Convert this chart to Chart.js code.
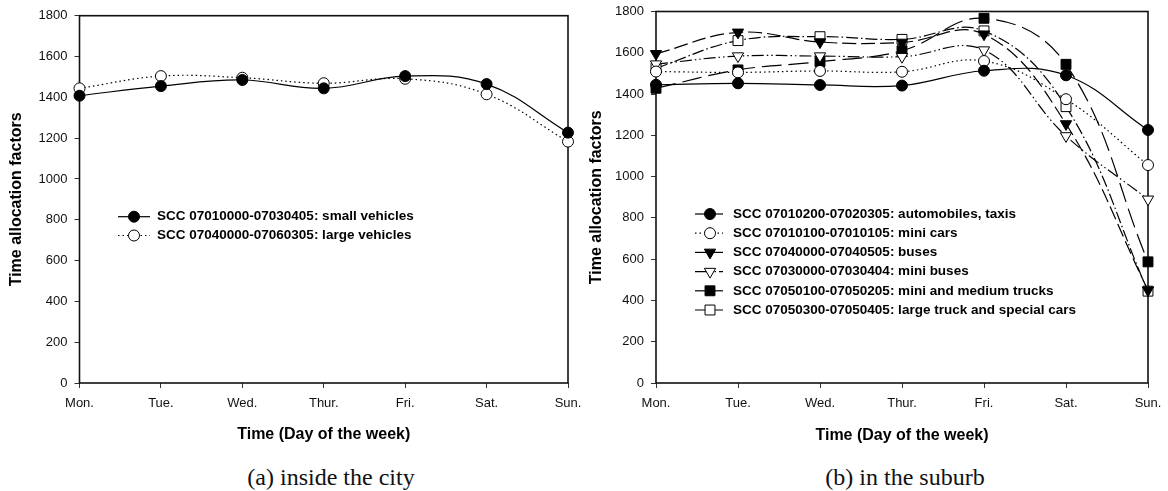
<!DOCTYPE html>
<html><head><meta charset="utf-8">
<script src="https://cdn.jsdelivr.net/npm/chart.js@4/dist/chart.umd.min.js"></script>
<style>
html,body{margin:0;padding:0;background:#fff;width:1168px;height:491px;overflow:hidden;position:relative}
#c1{position:absolute;left:0;top:0}
#c2{position:absolute;left:585px;top:-4px}
.cap{position:absolute;font-family:"Liberation Serif","Times New Roman",serif;font-size:24px;line-height:28px;color:#111;white-space:nowrap;transform:translateX(-50%);}
</style></head><body>
<canvas id="c1" width="590" height="460"></canvas>
<canvas id="c2" width="585" height="464"></canvas>
<div class="cap" style="left:331px;top:463px">(a) inside the city</div>
<div class="cap" style="left:905px;top:463px">(b) in the suburb</div>
<script>
// ---- data ----
const days = ["Mon.", "Tue.", "Wed.", "Thur.", "Fri.", "Sat.", "Sun."];
const yTicks = [0, 200, 400, 600, 800, 1000, 1200, 1400, 1600, 1800];

// (a) inside the city
const smallVehicles = [1408, 1455, 1485, 1444, 1504, 1465, 1227];
const largeVehicles = [1444, 1504, 1496, 1469, 1491, 1415, 1183];

// (b) in the suburb
const automobilesTaxis = [1445, 1452, 1444, 1441, 1513, 1491, 1226];
const miniCars = [1509, 1505, 1512, 1508, 1560, 1375, 1056];
const buses = [1595, 1699, 1652, 1650, 1690, 1255, 450];
const miniBuses = [1545, 1584, 1584, 1581, 1613, 1197, 890];
const miniMediumTrucks = [1428, 1517, 1557, 1610, 1767, 1544, 587];
const largeTrucksSpecial = [1525, 1659, 1678, 1665, 1706, 1339, 445];

const labelsA = ["SCC 07010000-07030405: small vehicles", "SCC 07040000-07060305: large vehicles"];
const labelsB = [
  "SCC 07010200-07020305: automobiles, taxis",
  "SCC 07010100-07010105: mini cars",
  "SCC 07040000-07040505: buses",
  "SCC 07030000-07030404: mini buses",
  "SCC 07050100-07050205: mini and medium trucks",
  "SCC 07050300-07050405: large truck and special cars"
];

const SANS = '"Liberation Sans", Arial, Helvetica, sans-serif';

function drawMarker(ctx, ds, x, y) {
  const opts = {pointStyle: ds.pointStyle, rotation: ds.pointRotation || 0, radius: ds.pointRadius, borderWidth: ds.pointBorderWidth};
  if (Chart.helpers && Chart.helpers.drawPoint) {
    Chart.helpers.drawPoint(ctx, opts, x, y);
  } else {
    ctx.beginPath(); ctx.arc(x, y, ds.pointRadius, 0, Math.PI * 2); ctx.fill(); ctx.stroke();
  }
}

const framePlugin = {
  id: 'frame',
  beforeDatasetsDraw(chart) {
    const a = chart.chartArea, ctx = chart.ctx;
    ctx.save();
    ctx.strokeStyle = '#111';
    ctx.lineWidth = 1.6;
    ctx.setLineDash([]);
    ctx.strokeRect(a.left, a.top, a.right - a.left, a.bottom - a.top);
    ctx.restore();
  }
};

const legendPlugin = {
  id: 'inlegend',
  afterDraw(chart, args, opts) {
    const ctx = chart.ctx;
    ctx.save();
    chart.data.datasets.forEach((ds, i) => {
      const y = opts.ys[i];
      ctx.beginPath();
      ctx.setLineDash(ds.legendDash || []);
      ctx.lineWidth = 1.2; ctx.strokeStyle = '#000';
      ctx.moveTo(opts.x0, y); ctx.lineTo(opts.x1, y); ctx.stroke();
      ctx.setLineDash([]);
      ctx.fillStyle = ds.pointBackgroundColor; ctx.strokeStyle = '#000'; ctx.lineWidth = 1;
      drawMarker(ctx, ds, opts.mx, y);
      ctx.fillStyle = '#000';
      ctx.font = 'bold 13.5px ' + SANS;
      ctx.textBaseline = 'middle'; ctx.textAlign = 'left';
      ctx.fillText(ds.label, opts.tx, y);
    });
    ctx.restore();
  }
};

function series(label, data, style) {
  return Object.assign({
    label, data,
    borderColor: '#000', borderWidth: 1.2,
    pointBorderColor: '#000', pointBorderWidth: 1,
    tension: 0.4, fill: false, clip: false
  }, style);
}
const FILLED_CIRCLE = {pointStyle: 'circle', pointRadius: 5.5, pointBackgroundColor: '#000'};
const OPEN_CIRCLE = {pointStyle: 'circle', pointRadius: 5.5, pointBackgroundColor: '#fff'};
const FILLED_TRI = {pointStyle: 'triangle', pointRotation: 180, pointRadius: 6.5, pointBackgroundColor: '#000'};
const OPEN_TRI = {pointStyle: 'triangle', pointRotation: 180, pointRadius: 6.5, pointBackgroundColor: '#fff'};
const FILLED_SQ = {pointStyle: 'rect', pointRadius: 7, pointBackgroundColor: '#000'};
const OPEN_SQ = {pointStyle: 'rect', pointRadius: 7, pointBackgroundColor: '#fff'};

function makeChart(canvas, datasets, L) {
  return new Chart(canvas, {
    type: 'line',
    data: {labels: days, datasets},
    plugins: [framePlugin, legendPlugin],
    options: {
      responsive: false, animation: false, events: [],
      layout: {padding: {left: 0, top: L.padTop, right: L.padRight, bottom: 0}},
      plugins: {legend: {display: false}, tooltip: {enabled: false}, inlegend: L.legend},
      scales: {
        x: {
          type: 'category', offset: false,
          grid: {display: true, drawOnChartArea: false, drawTicks: true, tickLength: 5, color: '#333', lineWidth: 1},
          border: {display: false},
          ticks: {color: '#111', font: {family: SANS, size: 13}, padding: 8, maxRotation: 0, autoSkip: false},
          title: {display: true, text: 'Time (Day of the week)', color: '#000', font: {family: SANS, size: 16, weight: 'bold'}, padding: {top: 0, bottom: L.xTitlePad}},
          afterFit: s => { s.height = L.xHeight; }
        },
        y: {
          min: 0, max: 1800,
          afterBuildTicks: s => { s.ticks = yTicks.map(v => ({value: v})); },
          grid: {display: true, drawOnChartArea: false, drawTicks: true, tickLength: 5, color: '#333', lineWidth: 1},
          border: {display: false},
          ticks: {color: '#111', font: {family: SANS, size: 13}, padding: 7, callback: v => String(v)},
          title: {display: true, text: 'Time allocation factors', color: '#000', font: {family: SANS, size: 16, weight: 'bold'}, padding: {top: L.yTitlePad, bottom: 0}},
          afterFit: s => { s.width = L.yWidth; }
        }
      }
    }
  });
}

makeChart(document.getElementById('c1'), [
  series(labelsA[0], smallVehicles, Object.assign({borderDash: []}, FILLED_CIRCLE)),
  series(labelsA[1], largeVehicles, Object.assign({borderDash: [1.5, 3], legendDash: [1.5, 3]}, OPEN_CIRCLE))
], {
  padTop: 15.7, padRight: 22, yWidth: 79.5, xHeight: 77, xTitlePad: 15.4, yTitlePad: 7,
  legend: {x0: 118, x1: 150, mx: 134, tx: 157, ys: [216.7, 235.5]}
});

makeChart(document.getElementById('c2'), [
  series(labelsB[0], automobilesTaxis, Object.assign({borderDash: []}, FILLED_CIRCLE)),
  series(labelsB[1], miniCars, Object.assign({borderDash: [1.5, 3], legendDash: [1.5, 3]}, OPEN_CIRCLE)),
  series(labelsB[2], buses, Object.assign({borderDash: [14, 5], legendDash: []}, FILLED_TRI)),
  series(labelsB[3], miniBuses, Object.assign({borderDash: [12, 3, 1.5, 3, 1.5, 3], legendDash: [12, 3, 1.5, 3, 1.5, 3]}, OPEN_TRI)),
  series(labelsB[4], miniMediumTrucks, Object.assign({borderDash: [20, 7], legendDash: []}, FILLED_SQ)),
  series(labelsB[5], largeTrucksSpecial, Object.assign({borderDash: [12, 3, 1.5, 3], legendDash: [12, 3, 1.5, 3]}, OPEN_SQ))
], {
  padTop: 15.5, padRight: 22, yWidth: 71, xHeight: 77, xTitlePad: 14.4, yTitlePad: 2.1,
  legend: {x0: 110, x1: 138, mx: 125, tx: 148, ys: [218, 237.2, 256.4, 275.6, 294.8, 314]}
});
</script>
</body></html>
